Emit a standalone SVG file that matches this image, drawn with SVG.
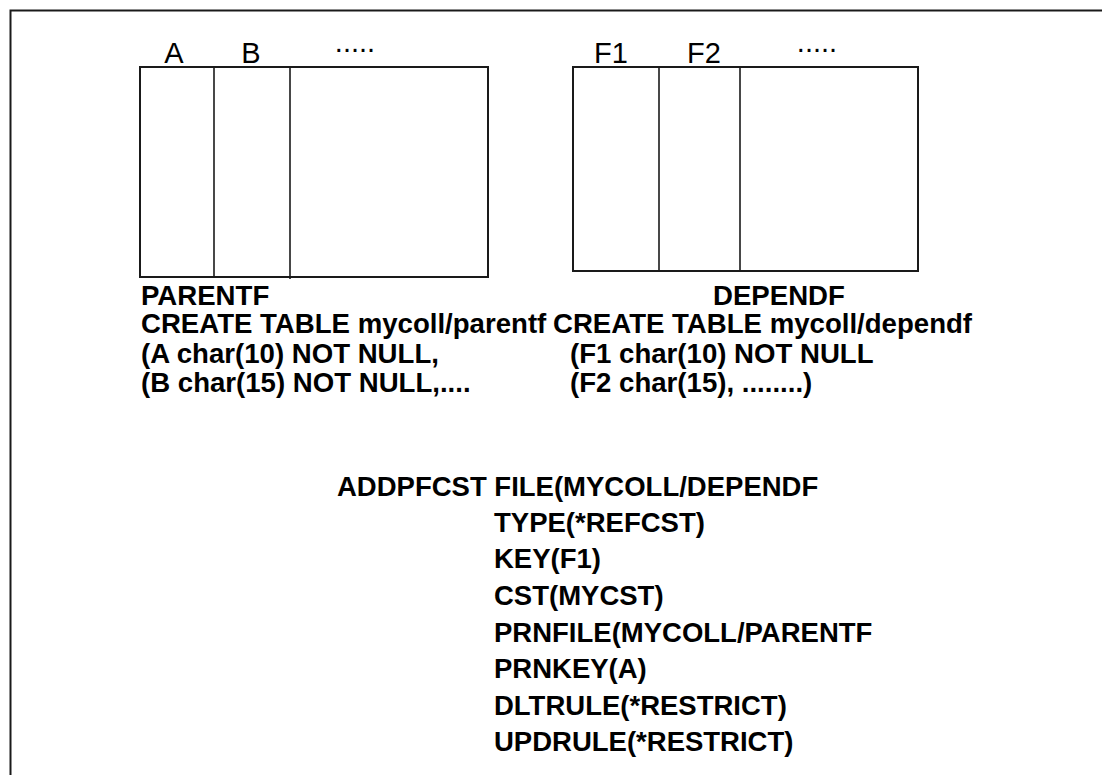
<svg xmlns="http://www.w3.org/2000/svg" width="1102" height="775" viewBox="0 0 1102 775">
<style>
.ln{fill:none;stroke:#1a1a1a;stroke-width:2}
.cl{stroke:#1a1a1a;stroke-width:1.6}
.hd{font-family:"Liberation Sans",Arial,sans-serif;font-size:29px;fill:#000}
.b{font-family:"Liberation Sans",Arial,sans-serif;font-size:27.6px;font-weight:bold;fill:#000}
.c{font-family:"Liberation Sans",Arial,sans-serif;font-size:27.5px;font-weight:bold;fill:#000}
</style>
<rect x="0" y="0" width="1102" height="775" fill="#fff"/>
<path class="ln" d="M10.5,1000 V10.5 H1200" stroke="#333"/>
<g id="parentf">
<rect class="ln" x="140" y="67" width="348" height="210"/>
<line class="cl" x1="214" y1="67" x2="214" y2="277"/>
<line class="cl" x1="290" y1="67" x2="290" y2="279"/>
<text class="hd" x="174" y="63" text-anchor="middle">A</text>
<text class="hd" x="251" y="63" text-anchor="middle">B</text>
<text class="hd" x="355" y="52" text-anchor="middle">.....</text>
<text class="b" x="141" y="305">PARENTF</text>
<text class="b" x="141" y="333">CREATE TABLE mycoll/parentf</text>
<text class="b" x="141" y="363">(A char(10) NOT NULL,</text>
<text class="b" x="141" y="392">(B char(15) NOT NULL,....</text>
</g>
<g id="dependf">
<rect class="ln" x="573" y="67" width="345" height="204"/>
<line class="cl" x1="659" y1="67" x2="659" y2="271"/>
<line class="cl" x1="740" y1="67" x2="740" y2="271"/>
<text class="hd" x="611" y="63" text-anchor="middle">F1</text>
<text class="hd" x="704" y="63" text-anchor="middle">F2</text>
<text class="hd" x="817" y="52" text-anchor="middle">.....</text>
<text class="b" x="713" y="305">DEPENDF</text>
<text class="b" x="553" y="333">CREATE TABLE mycoll/dependf</text>
<text class="b" x="570" y="363">(F1 char(10) NOT NULL</text>
<text class="b" x="570" y="392">(F2 char(15), ........)</text>
</g>
<g id="addpfcst">
<text class="c" x="337" y="496">ADDPFCST FILE(MYCOLL/DEPENDF</text>
<text class="c" x="494" y="532">TYPE(*REFCST)</text>
<text class="c" x="494" y="568">KEY(F1)</text>
<text class="c" x="494" y="605">CST(MYCST)</text>
<text class="c" x="494" y="642">PRNFILE(MYCOLL/PARENTF</text>
<text class="c" x="494" y="678">PRNKEY(A)</text>
<text class="c" x="494" y="715">DLTRULE(*RESTRICT)</text>
<text class="c" x="494" y="751">UPDRULE(*RESTRICT)</text>
</g>
<g id="connectors"/>
</svg>
